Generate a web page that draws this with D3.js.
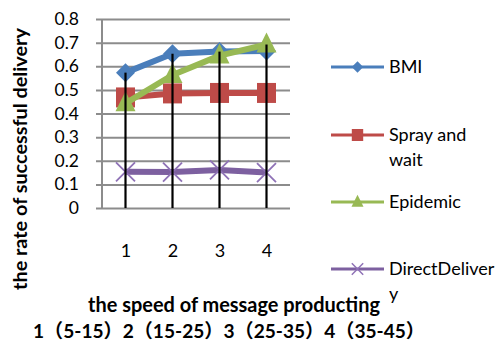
<!DOCTYPE html>
<html>
<head>
<meta charset="utf-8">
<script src="https://cdn.jsdelivr.net/npm/d3@7"></script>
<style>
  html, body { margin: 0; padding: 0; background: #fff; }
  svg { display: block; font-family: Lato, "Open Sans", sans-serif; }
</style>
</head>
<body>
<svg id="chart" width="504" height="343"></svg>
<script>
// Message-producing speed groups and delivery ratio per routing protocol
const categories = ["1", "2", "3", "4"];
const yTicks = [0, 0.1, 0.2, 0.3, 0.4, 0.5, 0.6, 0.7, 0.8];
const seriesNames = ["BMI", "Spray and wait", "Epidemic", "DirectDelivery"];
const bmi = [0.573, 0.653, 0.662, 0.665];
const sprayAndWait = [0.468, 0.485, 0.487, 0.487];
const epidemic = [0.443, 0.563, 0.645, 0.692];
const directDelivery = [0.153, 0.152, 0.161, 0.150];
const xTitle = "the speed of message producting";
const xRanges = "1（5-15）2（15-25）3（25-35）4（35-45）";
const yTitle = "the rate of successful delivery";

const colors = ["#4a7ebb", "#be4b48", "#98b954", "#7d60a0"];
const shapes = ["diamond", "square", "triangle", "cross"];
const values = [bmi, sprayAndWait, epidemic, directDelivery];

const svg = d3.select("#chart");
const plot = { left: 102, right: 290, top: 19, bottom: 208 };

const x = d3.scalePoint().domain(categories).range([plot.left, plot.right]).padding(0.5);
const y = d3.scaleLinear().domain([0, 0.8]).range([plot.bottom, plot.top]);

// shrink or grow a text's font so that it spans the given width
function fitWidth(sel, width, base) {
  sel.style("font-size", base + "px");
  const w = sel.node().getComputedTextLength();
  sel.style("font-size", (base * width / w).toFixed(2) + "px");
}

// horizontal gridlines with short outside ticks
const yAxis = d3.axisLeft(y).tickValues(yTicks).tickSize(-(plot.right - plot.left)).tickSizeOuter(0)
  .tickFormat(d => d === 0 ? "0" : d3.format(".1f")(d));
const gy = svg.append("g").attr("transform", `translate(${plot.left},0)`).call(yAxis);
gy.select(".domain").remove();
gy.selectAll(".tick line").attr("stroke", "#8c8c8c").attr("stroke-width", 2).attr("x1", -6);
gy.selectAll(".tick text").attr("x", -23).attr("fill", "#000")
  .style("font-size", "17.5px").style("font-family", "Lato, sans-serif");

// vertical axis line
svg.append("line").attr("x1", plot.left).attr("x2", plot.left)
  .attr("y1", plot.top).attr("y2", plot.bottom + 1)
  .attr("stroke", "#8c8c8c").attr("stroke-width", 2);

// category labels
const xAxis = d3.axisBottom(x).tickSize(0);
const gx = svg.append("g").attr("transform", `translate(0,${plot.bottom})`).call(xAxis);
gx.select(".domain").remove();
gx.selectAll(".tick text").attr("y", 43).attr("dy", "0.32em").attr("fill", "#000")
  .style("font-size", "18px").style("font-family", "Lato, sans-serif");

// series lines and markers
const line = d3.line().x((d, i) => x(categories[i])).y(d => y(d));
function markerPath(shape) {
  if (shape === "diamond") return "M0,-9.5L9.5,0L0,9.5L-9.5,0Z";
  if (shape === "square") return "M-9.5,-10H9.5V10H-9.5Z";
  if (shape === "triangle") return "M0,-12L10,8L-10,8Z";
  return "M-9.5,-9.5L9.5,9.5M-9.5,9.5L9.5,-9.5";
}
values.forEach((vals, s) => {
  const g = svg.append("g");
  g.append("path").datum(vals).attr("d", line).attr("fill", "none")
    .attr("stroke", colors[s]).attr("stroke-width", 6).attr("stroke-linejoin", "round");
  g.selectAll("path.m").data(vals).enter().append("path").attr("class", "m")
    .attr("transform", (d, i) => `translate(${x(categories[i])},${y(d)})`)
    .attr("d", markerPath(shapes[s]))
    .attr("fill", shapes[s] === "cross" ? "none" : colors[s])
    .attr("stroke", shapes[s] === "cross" ? "#8f72b6" : "none")
    .attr("stroke-width", 1.8);
});

// drop lines from the highest value of each category
categories.forEach((c, i) => {
  const top = d3.max(values, v => v[i]);
  svg.append("line").attr("x1", x(c)).attr("x2", x(c))
    .attr("y1", y(top)).attr("y2", y(0))
    .attr("stroke", "#000").attr("stroke-width", 2.2);
});

// legend
const legendRows = [
  { lines: ["BMI"], y: 67 },
  { lines: ["Spray and", "wait"], y: 135 },
  { lines: ["Epidemic"], y: 202 },
  { lines: ["DirectDeliver", "y"], y: 269 }
];
legendRows.forEach((r, s) => {
  const g = svg.append("g").attr("transform", `translate(0,${r.y})`);
  g.append("line").attr("x1", 331).attr("x2", 384).attr("y1", 0).attr("y2", 0)
    .attr("stroke", colors[s]).attr("stroke-width", 3);
  g.append("path").attr("transform", "translate(357.5,0) scale(0.6)")
    .attr("d", markerPath(shapes[s]))
    .attr("fill", shapes[s] === "cross" ? "none" : colors[s])
    .attr("stroke", shapes[s] === "cross" ? "#8f72b6" : "none")
    .attr("stroke-width", 2.5);
  const t = g.append("text").attr("x", 389).attr("y", 0)
    .style("font-size", "18px").attr("fill", "#000");
  r.lines.forEach((ln, k) => {
    t.append("tspan").attr("x", 389).attr("dy", k === 0 ? "0.35em" : "25px").text(ln);
  });
});

// axis titles
const yt = svg.append("text").attr("transform", "translate(20,159) rotate(-90)")
  .attr("text-anchor", "middle").attr("dy", "0.35em")
  .style("font-weight", "bold").text(yTitle);
fitWidth(yt, 262, 16);
const xt = svg.append("text").attr("x", 234).attr("y", 305).attr("dy", "0.35em")
  .attr("text-anchor", "middle")
  .style("font-weight", "bold").text(xTitle);
fitWidth(xt, 292, 17);
const xr = svg.append("text").attr("x", 229).attr("y", 331).attr("dy", "0.35em")
  .attr("text-anchor", "middle")
  .style("font-weight", "bold")
  .style("font-family", "Lato, 'Noto Sans CJK SC', sans-serif").text(xRanges);
fitWidth(xr, 392, 17);
</script>
</body>
</html>
